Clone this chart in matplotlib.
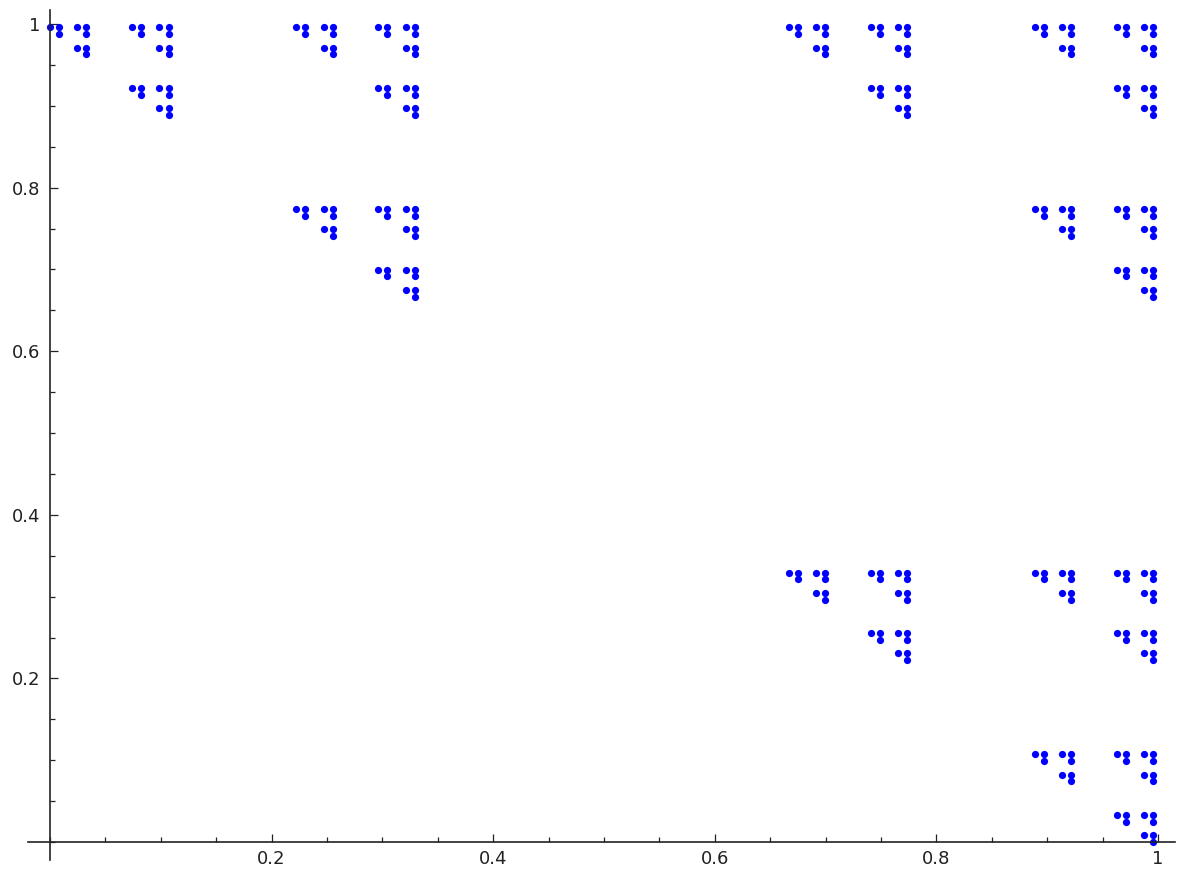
import numpy as np
from matplotlib import pyplot as plt
from matplotlib.ticker import MultipleLocator, FixedLocator

# point positions in units of 1/243, one column of y values per x
col_x = [0, 2, 6, 8, 18, 20, 24, 26, 54, 56, 60, 62, 72, 74, 78, 80,
         162, 164, 168, 170, 180, 182, 186, 188, 216, 218, 222, 224, 234, 236, 240, 242]
col_y = [
    [242],
    [240, 242],
    [236, 242],
    [234, 236, 240, 242],
    [224, 242],
    [222, 224, 240, 242],
    [218, 224, 236, 242],
    [216, 218, 222, 224, 234, 236, 240, 242],
    [188, 242],
    [186, 188, 240, 242],
    [182, 188, 236, 242],
    [180, 182, 186, 188, 234, 236, 240, 242],
    [170, 188, 224, 242],
    [168, 170, 186, 188, 222, 224, 240, 242],
    [164, 170, 182, 188, 218, 224, 236, 242],
    [162, 164, 168, 170, 180, 182, 186, 188, 216, 218, 222, 224, 234, 236, 240, 242],
    [80, 242],
    [78, 80, 240, 242],
    [74, 80, 236, 242],
    [72, 74, 78, 80, 234, 236, 240, 242],
    [62, 80, 224, 242],
    [60, 62, 78, 80, 222, 224, 240, 242],
    [56, 62, 74, 80, 218, 224, 236, 242],
    [54, 56, 60, 62, 72, 74, 78, 80, 216, 218, 222, 224, 234, 236, 240, 242],
    [26, 80, 188, 242],
    [24, 26, 78, 80, 186, 188, 240, 242],
    [20, 26, 74, 80, 182, 188, 236, 242],
    [18, 20, 24, 26, 72, 74, 78, 80, 180, 182, 186, 188, 234, 236, 240, 242],
    [8, 26, 62, 80, 170, 188, 224, 242],
    [6, 8, 24, 26, 60, 62, 78, 80, 168, 170, 186, 188, 222, 224, 240, 242],
    [2, 8, 20, 26, 56, 62, 74, 80, 164, 170, 182, 188, 218, 224, 236, 242],
    [0, 2, 6, 8, 18, 20, 24, 26, 54, 56, 60, 62, 72, 74, 78, 80,
     162, 164, 168, 170, 180, 182, 186, 188, 216, 218, 222, 224, 234, 236, 240, 242],
]
unit = 243.0

x_ticks = [0.2, 0.4, 0.6, 0.8, 1.0]
x_labels = ["0.2", "0.4", "0.6", "0.8", "1"]
y_ticks = [0.2, 0.4, 0.6, 0.8, 1.0]
y_labels = ["0.2", "0.4", "0.6", "0.8", "1"]

xs = []
ys = []
for cx, cy in zip(col_x, col_y):
    for v in cy:
        xs.append(cx / unit)
        ys.append(v / unit)

fig = plt.figure(figsize=(11.83, 8.73), dpi=100)
ax = fig.add_axes([0, 0, 1, 1])
ax.plot(xs, ys, 'o', color=(0, 0, 1), markersize=5.2, markeredgewidth=0)

ax.set_xlim(-50 / 1108, 1133 / 1108)
ax.set_ylim(-31 / 818, 842 / 818)

for s in ['top', 'right']:
    ax.spines[s].set_visible(False)
ax.spines['bottom'].set_position(('data', 0))
ax.spines['left'].set_position(('data', 0))
ax.spines['bottom'].set_bounds(-0.02, 1.015)
ax.spines['left'].set_bounds(-0.022, 1.017)
for s in ['bottom', 'left']:
    ax.spines[s].set_linewidth(1.2)
    ax.spines[s].set_color('#222222')

ax.xaxis.set_major_locator(FixedLocator(x_ticks))
ax.set_xticklabels(x_labels)
ax.yaxis.set_major_locator(FixedLocator(y_ticks))
ax.set_yticklabels(y_labels)
ax.xaxis.set_minor_locator(MultipleLocator(0.05))
ax.yaxis.set_minor_locator(MultipleLocator(0.05))
ax.tick_params(which='both', direction='in', color='#222222', width=0.9,
               labelsize=13, labelcolor='#222222')
ax.tick_params(which='major', length=6)
ax.tick_params(which='minor', length=3.5)
ax.tick_params(axis='x', pad=6)
ax.tick_params(axis='y', pad=7)

plt.savefig('out.png', dpi=100)
